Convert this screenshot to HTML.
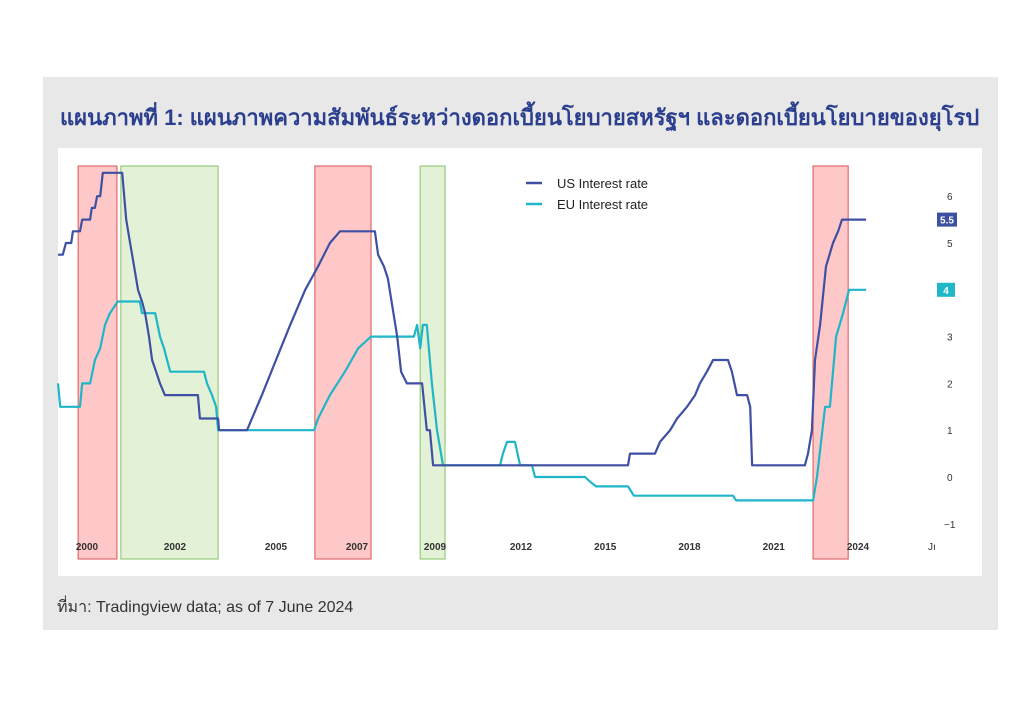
<!DOCTYPE html>
<html><head><meta charset="utf-8"><style>
body{margin:0;width:1024px;height:709px;background:#fff;overflow:hidden;font-family:"Liberation Sans","Noto Sans CJK SC",sans-serif}
#bg{position:absolute;left:43px;top:77px;width:955px;height:553px;background:#e8e8e8}
#title{position:absolute;left:60px;top:100px;font-size:22px;font-weight:bold;color:#2b3f8e;white-space:nowrap;font-family:"Liberation Sans","Noto Sans CJK SC",sans-serif}
#src{position:absolute;left:57px;top:595px;font-size:16px;color:#333}
svg{position:absolute;left:0;top:0}
</style></head><body>
<div id="bg"></div>
<div id="title">แผนภาพที่ 1: แผนภาพความสัมพันธ์ระหว่างดอกเบี้ยนโยบายสหรัฐฯ และดอกเบี้ยนโยบายของยุโรป</div>
<div id="src">ที่มา: Tradingview data; as of 7 June 2024</div>
<svg id="c" width="1024" height="709"></svg>
<script>
const yearTicks=[2000,2002,2005,2007,2009,2012,2015,2018,2021,2024];
const yTicks=[6,5,4,3,2,1,0,-1];
const usDates=[1999.34,1999.45,1999.52,1999.64,1999.68,1999.84,1999.89,2000.07,2000.11,2000.18,2000.23,2000.30,2000.36,2000.80,2000.89,2000.98,2001.07,2001.16,2001.25,2001.32,2001.41,2001.48,2001.57,2001.66,2001.77,2001.95,2002.68,2002.74,2003.28,2003.31,2004.14,2004.58,2005.0,2005.35,2005.72,2006.04,2006.33,2006.58,2007.46,2007.54,2007.69,2007.79,2008.03,2008.13,2008.28,2008.67,2008.79,2008.87,2008.95,2015.81,2015.88,2016.77,2016.95,2017.31,2017.56,2017.91,2018.20,2018.37,2018.62,2018.84,2019.37,2019.51,2019.69,2020.05,2020.16,2020.23,2022.11,2022.22,2022.36,2022.47,2022.65,2022.86,2023.11,2023.29,2023.43,2024.29];
const usValues=[4.75,4.75,5.0,5.0,5.25,5.25,5.5,5.5,5.75,5.75,6.0,6.0,6.5,6.5,5.5,5.0,4.5,4.0,3.75,3.5,3.0,2.5,2.25,2.0,1.75,1.75,1.75,1.25,1.25,1.0,1.0,1.75,2.5,3.25,4.0,4.5,5.0,5.25,5.25,4.75,4.5,4.25,3.0,2.25,2.0,2.0,1.0,1.0,0.25,0.25,0.5,0.5,0.75,1.0,1.25,1.5,1.75,2.0,2.25,2.5,2.5,2.25,1.75,1.75,1.5,0.25,0.25,0.5,1.0,2.5,3.25,4.5,5.0,5.25,5.5,5.5];
const euDates=[1999.34,1999.39,1999.84,1999.89,2000.07,2000.18,2000.30,2000.41,2000.52,2000.70,2001.20,2001.25,2001.55,2001.66,2001.75,2001.89,2002.86,2002.95,2003.10,2003.22,2003.28,2005.94,2006.04,2006.33,2006.70,2007.03,2007.36,2008.46,2008.54,2008.62,2008.69,2008.79,2008.92,2009.07,2009.28,2011.27,2011.37,2011.51,2011.79,2011.97,2012.39,2012.50,2014.28,2014.46,2014.67,2015.81,2016.02,2019.55,2019.66,2022.40,2022.54,2022.83,2023.00,2023.22,2023.47,2023.68,2024.29];
const euValues=[2.0,1.5,1.5,2.0,2.0,2.5,2.75,3.25,3.5,3.75,3.75,3.5,3.5,3.0,2.75,2.25,2.25,2.0,1.75,1.5,1.0,1.0,1.25,1.75,2.25,2.75,3.0,3.0,3.25,2.75,3.25,3.25,2.0,1.0,0.25,0.25,0.5,0.75,0.75,0.25,0.25,0.0,0.0,-0.1,-0.2,-0.2,-0.4,-0.4,-0.5,-0.5,0.0,1.5,1.5,3.0,3.5,4.0,4.0];
const bandStarts=[1999.80,2000.77,2005.96,2008.62,2022.40];
const bandEnds=[2000.68,2003.28,2007.36,2009.35,2023.65];
const bandTypes=['hike','cut','hike','cut','hike'];
const usLast=5.5, euLast=4;

const anchorYears=[2000,2002,2005,2007,2009,2012,2024];
const anchorX=[87,175,276,357,435,521,858];
function xs(t){let i=0;while(i<anchorYears.length-2&&t>anchorYears[i+1])i++;
 const a=anchorYears[i],b=anchorYears[i+1];return anchorX[i]+(t-a)*(anchorX[i+1]-anchorX[i])/(b-a);}
function ys(v){return 477-v*46.8;}
const S='http://www.w3.org/2000/svg',svg=document.getElementById('c');
function mk(tag,at,parent){const e=document.createElementNS(S,tag);for(const k in at)e.setAttribute(k,at[k]);(parent||svg).appendChild(e);return e;}
const panel=mk('rect',{x:58,y:148,width:924,height:428,fill:'#fff'});


bandStarts.forEach((s,i)=>{const hike=bandTypes[i]==='hike';
 const r=mk('rect',{x:xs(s),y:166,width:xs(bandEnds[i])-xs(s),height:393,fill:hike?'rgba(255,110,110,0.38)':'rgba(175,215,140,0.35)',stroke:hike?'#e06a6a':'#95cc7a','stroke-width':1.2});
 
 });
function line(d,v,col,name){const p=mk('polyline',{points:d.map((t,i)=>xs(t).toFixed(1)+','+ys(v[i]).toFixed(1)).join(' '),fill:'none',stroke:col,'stroke-width':2.2,'stroke-linejoin':'round'});
 
 }
line(euDates,euValues,'#1eb6c8','eu-rate-line');
line(usDates,usValues,'#3f4fa3','us-rate-line');
yearTicks.forEach(y=>{const t=mk('text',{x:xs(y),y:550,'text-anchor':'middle','font-size':10,'font-weight':'bold',fill:'#333'});t.textContent=y;
 
 });
const ju=mk('text',{x:928,y:550,'font-size':10,fill:'#333'});ju.textContent='Jı';


yTicks.forEach(v=>{const t=mk('text',{x:v<0?944:947,y:ys(v)+4,'font-size':10,fill:'#333'});t.textContent=v<0?'−1':v;
 
 });
[[usLast,'#3d4fa0','5.5','us-last-value-tag',20],[euLast,'#1fb8c8','4','eu-last-value-tag',18]].forEach(([v,c,s,n,w])=>{
 const g=mk('g',{});
 mk('rect',{x:937,y:ys(v)-7,width:w,height:14,fill:c},g);
 const t=mk('text',{x:937+w/2,y:ys(v)+4,'text-anchor':'middle','font-size':10,fill:'#fff','font-weight':'bold'},g);t.textContent=s;});
[['US Interest rate','#3f4fa3',183],['EU Interest rate','#1eb6c8',204]].forEach(([s,c,y],i)=>{
 const g=mk('g',{});
 mk('line',{x1:526,x2:542,y1:y,y2:y,stroke:c,'stroke-width':2.5},g);
 const t=mk('text',{x:557,y:y+5,'font-size':13,fill:'#222'},g);t.textContent=s;});
</script>
</body></html>
